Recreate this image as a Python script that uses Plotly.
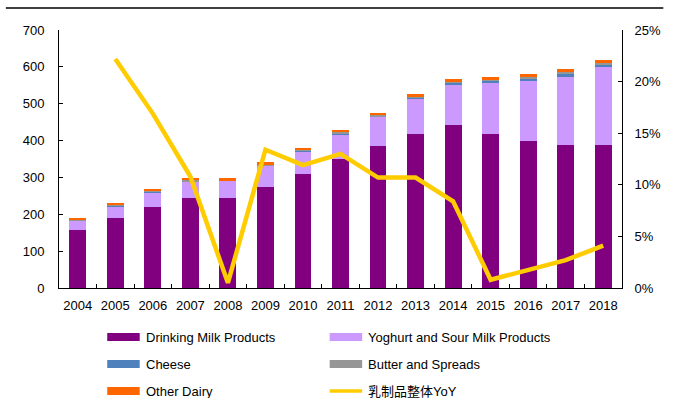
import plotly.graph_objects as go

years = ["2004", "2005", "2006", "2007", "2008", "2009", "2010", "2011",
         "2012", "2013", "2014", "2015", "2016", "2017", "2018"]
drinking_milk = [157, 190, 220, 243, 243, 275, 308, 350, 384, 418, 441, 418, 400, 388, 389]
yoghurt = [26, 32, 40, 45, 48, 56, 61, 67, 80, 95, 112, 140, 162, 185, 210]
cheese = [1, 1, 1, 2, 1, 2, 3, 3, 2, 3, 4, 4, 6, 8, 7]
butter = [2, 2, 2, 2, 1, 2, 2, 3, 3, 3, 3, 3, 4, 4, 5]
other_dairy = [5, 6, 6, 6, 5, 6, 7, 7, 7, 7, 7, 7, 8, 9, 7]
yoy = [None, 0.222, 0.169, 0.108, 0.005, 0.134, 0.119, 0.130, 0.107,
       0.107, 0.084, 0.008, 0.017, 0.027, 0.041]

series_names = ["Drinking Milk Products", "Yoghurt and Sour Milk Products",
                "Cheese", "Butter and Spreads", "Other Dairy"]
series_vals = [drinking_milk, yoghurt, cheese, butter, other_dairy]
colors = ["#800080", "#CC99FF", "#4F81BD", "#969696", "#FF6600"]
line_name = "乳制品整体YoY"
line_color = "#FFCC00"

FONT = "Liberation Sans, Arial, Noto Sans CJK SC, sans-serif"

fig = go.Figure()
for name, vals, c in zip(series_names, series_vals, colors):
    fig.add_trace(go.Bar(x=years, y=vals, name=name, marker_color=c,
                         marker_line_width=0, showlegend=False))
fig.add_trace(go.Scatter(x=years, y=yoy, name=line_name, yaxis="y2",
                         mode="lines", line=dict(color=line_color, width=4.5),
                         connectgaps=False, showlegend=False))

# plot area geometry (pixels) for manual legend
L, R, T, B = 59, 631, 30, 288
W, H = R - L, B - T
def px(x):
    return (x - L) / W
def py(y):
    return (B - y) / H

shapes = []
annotations = []
legend_items = [
    (series_names[0], colors[0], 108, 337, "rect"),
    (series_names[1], colors[1], 334, 337, "rect"),
    (series_names[2], colors[2], 108, 364, "rect"),
    (series_names[3], colors[3], 334, 364, "rect"),
    (series_names[4], colors[4], 108, 391, "rect"),
    (line_name, line_color, 334, 391, "line"),
]
for name, c, x0, yc, kind in legend_items:
    hh = 4 if kind == "rect" else 1.7
    shapes.append(dict(type="rect", xref="paper", yref="paper",
                       x0=px(x0), x1=px(x0 + 33), y0=py(yc + hh), y1=py(yc - hh),
                       fillcolor=c, line_width=0))
    annotations.append(dict(xref="paper", yref="paper", x=px(x0 + 37), y=py(yc),
                            text=name, showarrow=False, xanchor="left",
                            yanchor="middle", font=dict(size=13, color="#000000")))

# top border line
shapes.append(dict(type="line", xref="paper", yref="paper",
                   x0=px(5), x1=px(673), y0=py(8), y1=py(8),
                   line=dict(color="#000000", width=1.5)))

fig.update_layout(
    width=673, height=398,
    margin=dict(l=L, r=673 - R, t=T, b=398 - B),
    paper_bgcolor="white", plot_bgcolor="white",
    barmode="stack", bargap=0.55,
    font=dict(family=FONT, size=13, color="#000000"),
    showlegend=False,
    xaxis=dict(type="category", showline=True, linecolor="#000000", linewidth=1,
               ticks="inside", tickson="boundaries", ticklen=4, tickcolor="#000000",
               showgrid=False, tickfont=dict(size=13), ticklabelstandoff=5,
               tickangle=0),
    yaxis=dict(range=[0, 700], dtick=100, showline=True, linecolor="#000000",
               linewidth=1, ticks="inside", ticklen=4, tickcolor="#000000",
               showgrid=False, zeroline=False, tickfont=dict(size=13),
               ticklabelstandoff=11),
    yaxis2=dict(range=[0, 0.25], dtick=0.05, tickformat=".0%", overlaying="y",
                side="right", showline=True, linecolor="#000000", linewidth=1,
                ticks="inside", ticklen=4, tickcolor="#000000", showgrid=False,
                zeroline=False, tickfont=dict(size=13), ticklabelstandoff=9),
    shapes=shapes,
    annotations=annotations,
)

fig.write_html("out.html", config={"displayModeBar": False},
               post_script="document.body.style.margin='0';document.body.style.overflow='hidden';")
